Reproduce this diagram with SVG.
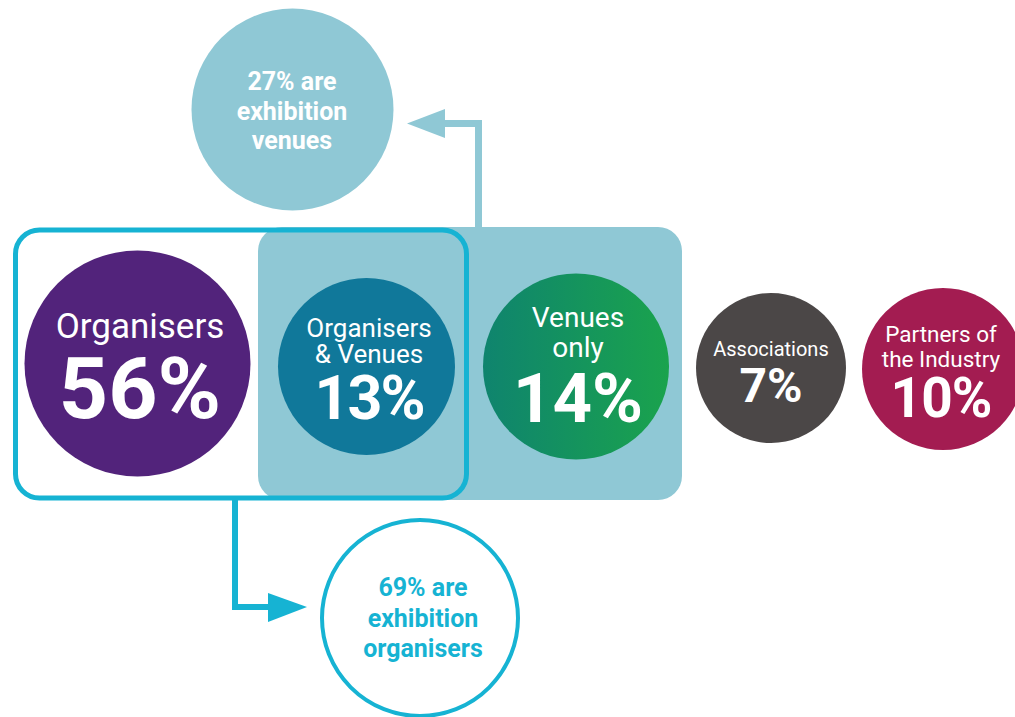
<svg xmlns="http://www.w3.org/2000/svg" width="1015" height="717" viewBox="0 0 1015 717">
<defs>
<linearGradient id="gGreen" x1="0" y1="0" x2="1" y2="0">
<stop offset="0" stop-color="#0F846E"/>
<stop offset="1" stop-color="#1AA34D"/>
</linearGradient>
<style>
.lbl{font-family:Roboto,"Liberation Sans",sans-serif;fill:#fff;text-anchor:middle}
.big{font-family:Roboto,"Liberation Sans",sans-serif;font-weight:700;fill:#fff;text-anchor:middle}
.note{font-family:Roboto,"Liberation Sans",sans-serif;font-weight:700;text-anchor:middle;font-size:25px}
</style>
</defs>
<rect width="1015" height="717" fill="#fff"/>
<g id="venues-group">
<rect x="258" y="227" width="424" height="273" rx="24" fill="#8FC8D5"/>
</g>
<g id="organisers-group">
<rect x="15.5" y="230" width="451" height="268" rx="24" fill="none" stroke="#16B3D3" stroke-width="5"/>
</g>
<g id="connectors">
<polyline points="478.5,228 478.5,123.5 445,123.5" fill="none" stroke="#8FC8D5" stroke-width="7"/>
<polygon points="407,123.5 445,109 445,138" fill="#8FC8D5"/>
<polyline points="235,498 235,607 268,607" fill="none" stroke="#16B3D3" stroke-width="6"/>
<polygon points="307,607 268,593 268,622" fill="#16B3D3"/>
</g>
<g id="exhibition-venues">
<circle cx="292.5" cy="109.5" r="101" fill="#8FC8D5"/>
<text class="note" x="292" y="90" fill="#fff">27% are</text>
<text class="note" x="292" y="120" fill="#fff">exhibition</text>
<text class="note" x="292" y="149" fill="#fff">venues</text>
</g>
<g id="organisers">
<circle cx="137.5" cy="363.5" r="113" fill="#52237B"/>
<text class="lbl" x="140" y="338" font-size="35">Organisers</text>
<text class="big" x="140" y="418" font-size="86">56%</text>
</g>
<g id="organisers-venues">
<circle cx="366.5" cy="366.5" r="88.5" fill="#10789A"/>
<text class="lbl" x="369" y="337" font-size="26">Organisers</text>
<text class="lbl" x="369" y="363" font-size="26">&amp; Venues</text>
<text class="big" x="369" y="419" font-size="61" letter-spacing="-2">13%</text>
</g>
<g id="venues-only">
<circle cx="576" cy="366.5" r="93" fill="url(#gGreen)"/>
<text class="lbl" x="578" y="327" font-size="28">Venues</text>
<text class="lbl" x="578" y="357" font-size="28">only</text>
<text class="big" x="578" y="422" font-size="69">14%</text>
</g>
<g id="associations">
<circle cx="771" cy="368" r="75" fill="#4B4747"/>
<text class="lbl" x="771" y="356" font-size="20">Associations</text>
<text class="big" x="771" y="402" font-size="48">7%</text>
</g>
<g id="partners">
<circle cx="943" cy="369" r="81" fill="#A31C51"/>
<text class="lbl" x="941" y="342" font-size="22.5">Partners of</text>
<text class="lbl" x="941" y="367" font-size="22.5">the Industry</text>
<text class="big" x="941" y="417" font-size="55" letter-spacing="-1">10%</text>
</g>
<g id="exhibition-organisers">
<circle cx="420" cy="618" r="98" fill="#fff" stroke="#16B3D3" stroke-width="4"/>
<text class="note" x="423" y="596" fill="#16B3D3">69% are</text>
<text class="note" x="423" y="627" fill="#16B3D3">exhibition</text>
<text class="note" x="423" y="657" fill="#16B3D3">organisers</text>
</g>
</svg>
